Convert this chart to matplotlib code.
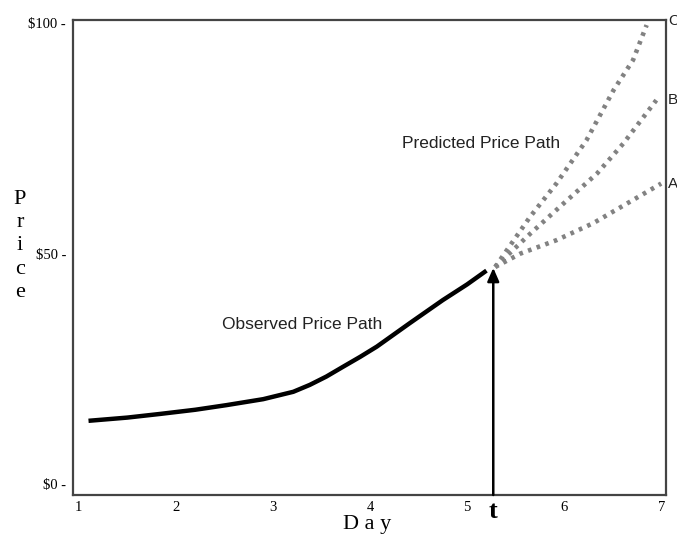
import matplotlib
matplotlib.use("Agg")
import matplotlib.pyplot as plt

# observed price path (day, price)
obs_day = [1.10, 1.50, 1.84, 2.20, 2.52, 2.90, 3.21, 3.38, 3.55, 3.72, 3.90, 4.07, 4.41, 4.75, 5.00, 5.20]
obs_price = [13.7, 14.4, 15.2, 16.1, 17.1, 18.4, 20.0, 21.5, 23.3, 25.4, 27.6, 29.8, 34.9, 39.9, 43.3, 46.3]

# predicted paths A, B, C
a_day = [5.29, 5.55, 5.92, 6.30, 6.65, 7.00]
a_price = [47.1, 50.0, 52.9, 56.6, 60.9, 65.2]
b_day = [5.29, 5.65, 5.99, 6.34, 6.61, 6.95]
b_price = [47.1, 54.3, 60.8, 67.4, 73.9, 83.3]
c_day = [5.29, 5.65, 5.92, 6.23, 6.51, 6.71, 6.85]
c_price = [47.1, 58.0, 65.2, 74.6, 85.5, 92.0, 99.6]

t_day = 5.27
t_price = 46.9

x_ticks = [1, 2, 3, 4, 5, 6, 7]
y_ticks = [0, 50, 100]
y_labels = ["$0 -", "$50 -", "$100 -"]

serif = "Liberation Serif"
sans = "Liberation Sans"

fig = plt.figure(figsize=(6.77, 5.35), dpi=100)
ax = fig.add_axes([0.1078, 0.0748, 0.8760, 0.8878])

ax.plot(obs_day, obs_price, color="black", lw=3.2, solid_capstyle="butt",
        solid_joinstyle="round")
for d, p in [(a_day, a_price), (b_day, b_price), (c_day, c_price)]:
    ax.plot(d, p, color="#828282", lw=3.3, linestyle=(0, (0.8, 1.2)))

ax.annotate("", xy=(t_day, t_price), xytext=(t_day, -2.4),
            arrowprops=dict(arrowstyle="-|>,head_length=0.8,head_width=0.35",
                            color="black", lw=1.8, shrinkA=0, shrinkB=0))

ax.set_xlim(0.94, 7.05)
ax.set_ylim(-2.4, 100.7)

ax.set_xticks(x_ticks)
ax.set_xticklabels([str(v) for v in x_ticks], fontfamily=serif, fontsize=10.5)
ax.tick_params(axis="x", length=0, pad=4)
ax.set_yticks(y_ticks)
ax.set_yticklabels(y_labels, fontfamily=serif, fontsize=10.5)
ax.tick_params(axis="y", length=0, pad=5)

for s in ax.spines.values():
    s.set_color("#444444")
    s.set_linewidth(1.6)

fig.text(367 / 677, 1 - 524 / 535, "D a y", fontfamily=serif, fontsize=16,
         ha="center", va="center")
fig.text(493 / 677, 1 - 512 / 535, "t", fontfamily=serif, fontsize=19,
         fontweight="bold", ha="center", va="center")
fig.text(20 / 677, 1 - 246 / 535, "P\nr\ni\nc\ne", fontfamily=serif, fontsize=16,
         ha="center", va="center", linespacing=1.3)

ax.text(2.48, 34.7, "Observed Price Path", fontfamily=sans, fontsize=12.5,
        color="#222222", va="center")
ax.text(4.33, 73.8, "Predicted Price Path", fontfamily=sans, fontsize=12.5,
        color="#222222", va="center")

for lbl, yv in [("C", 100.5), ("B", 83.3), ("A", 65.2)]:
    ax.text(1.003, yv, lbl, transform=ax.get_yaxis_transform(), fontfamily=sans,
            fontsize=11, ha="left", va="center", color="#222222")

fig.savefig("out.png", dpi=100)
